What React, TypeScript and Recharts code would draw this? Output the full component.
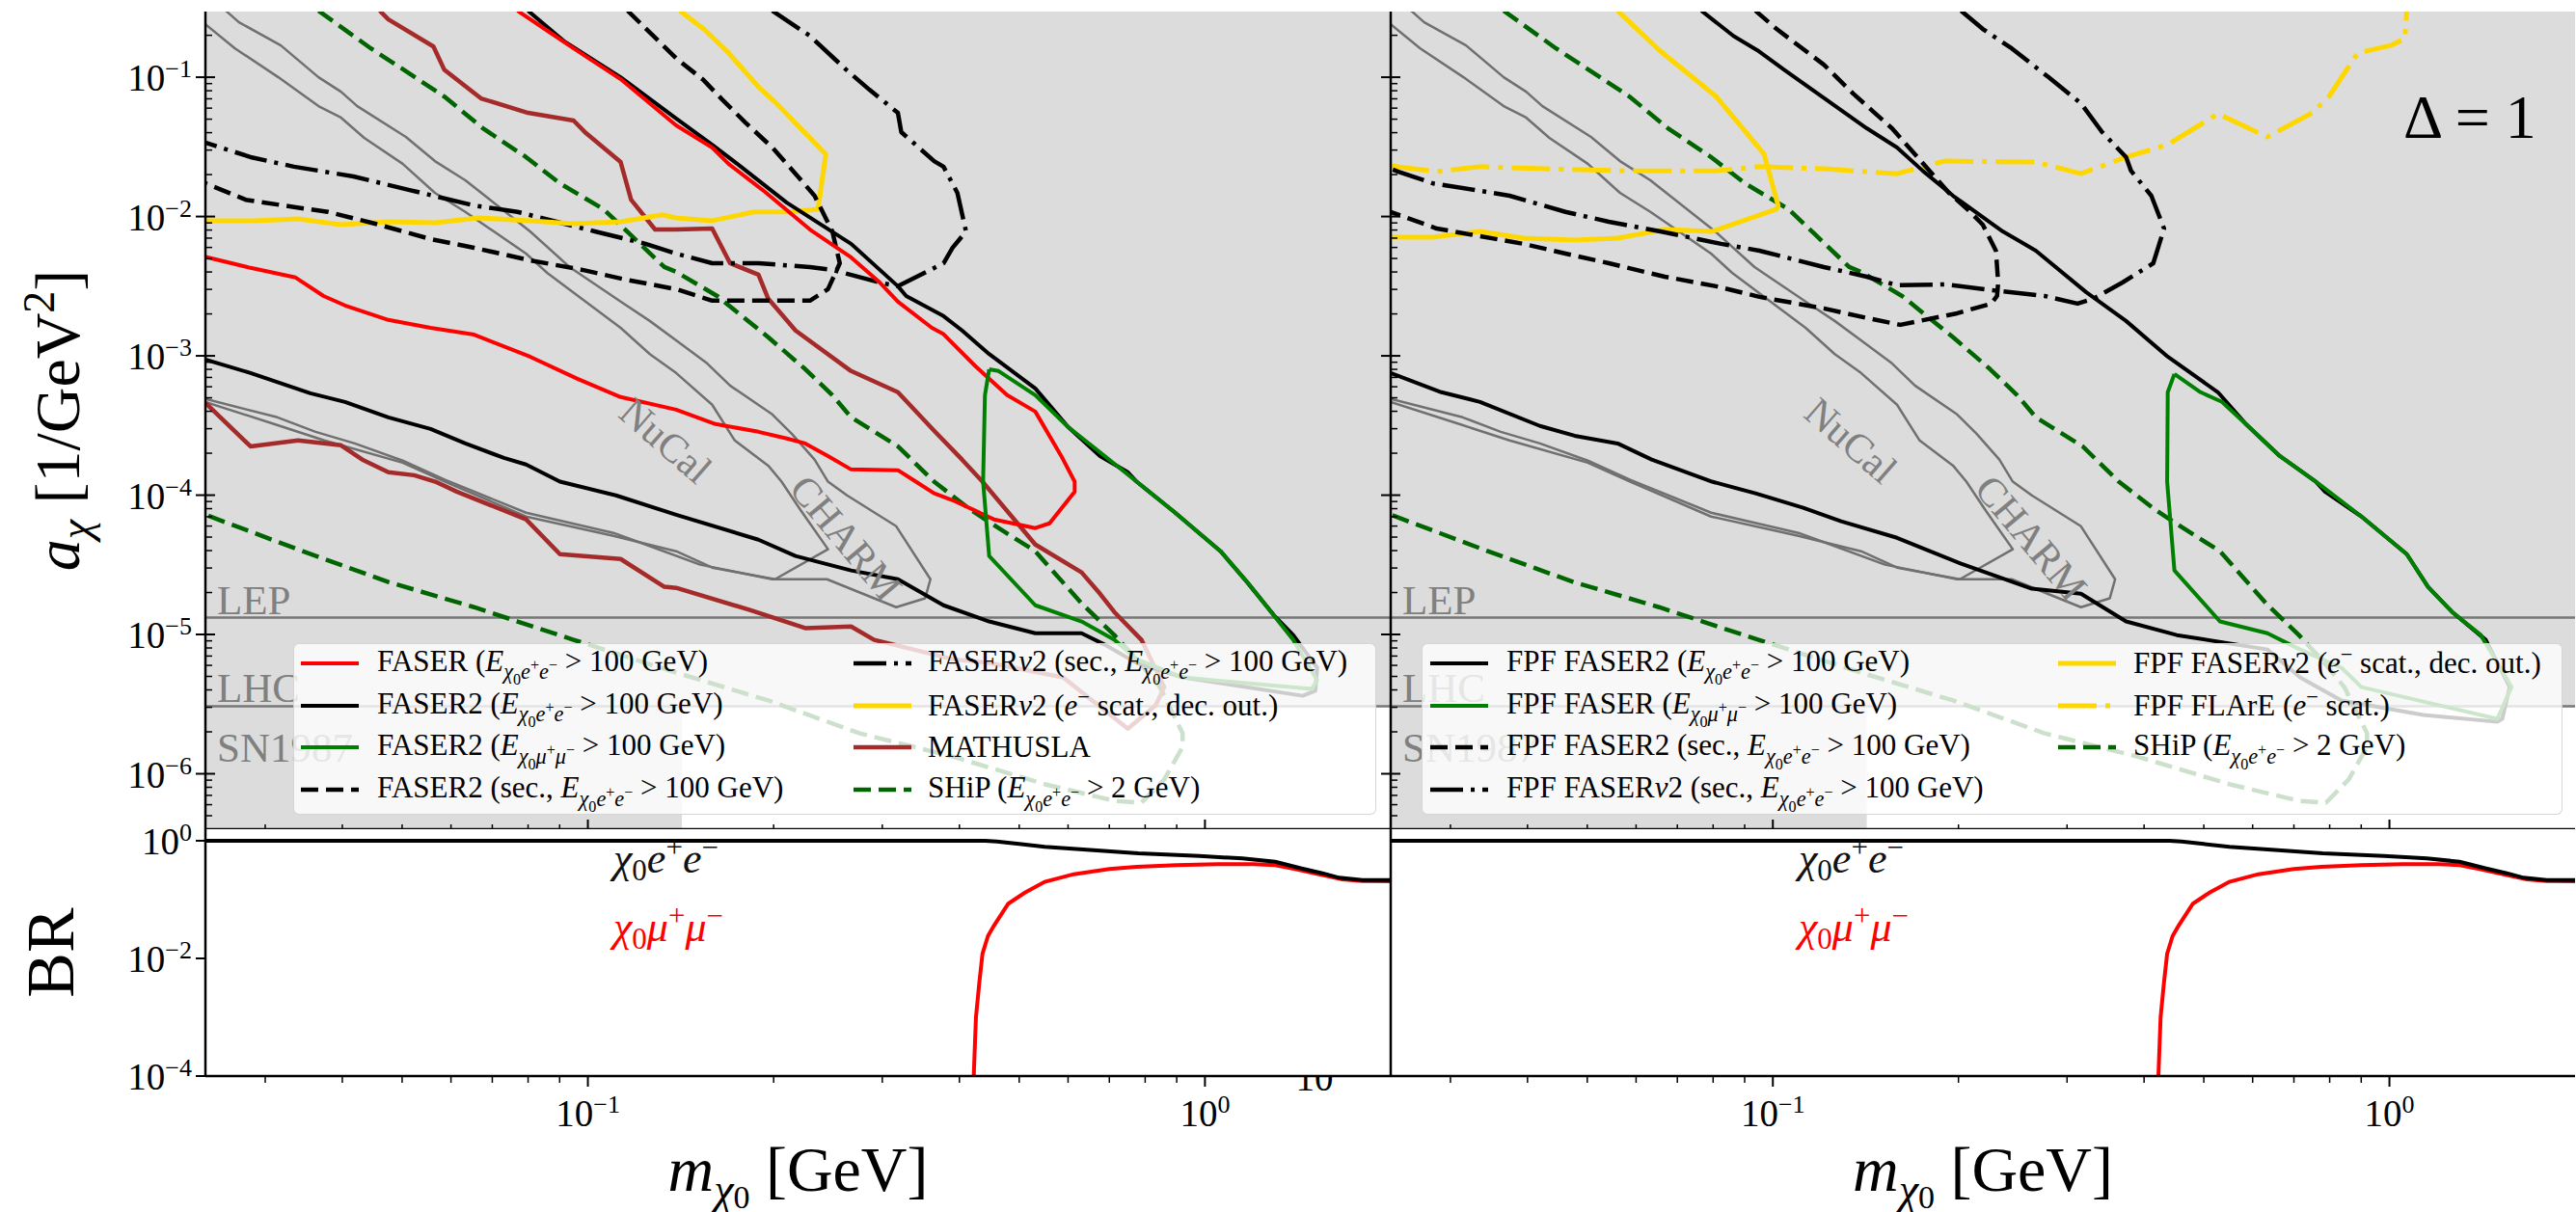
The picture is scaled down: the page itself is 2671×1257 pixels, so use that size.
import React from "react";
import {
  LineChart,
  Line,
  XAxis,
  YAxis,
  CartesianGrid,
  ReferenceArea,
  ReferenceLine,
  Legend,
} from "recharts";

type Pair = [number, number];

// axis ranges and tick labels
const M_RANGE: Pair = [0.024, 2.0];
const A_RANGE: Pair = [4.0e-7, 0.296];
const BR_RANGE: Pair = [1e-4, 1.57];
const M_MAJOR = [0.1, 1];
const A_MAJOR = [1e-6, 1e-5, 1e-4, 1e-3, 1e-2, 1e-1];
const BR_MAJOR = [1e-4, 1e-2, 1];

// existing bounds
const LEP_BOUND = 1.32e-5;
const LHC_BOUND = 3.05e-6;
const SN1987_MAX_MASS = 0.142;

// ---- curves: [m_chi0 (GeV), a_chi (1/GeV^2)] ----
const nucal: Pair[] = [
  [0.024, 0.24], [0.0268, 0.161], [0.0315, 0.1], [0.0366, 0.062], [0.0398, 0.0513],
  [0.0434, 0.0367], [0.0501, 0.0239], [0.0565, 0.0148], [0.0633, 0.0108], [0.0794, 0.00542],
  [0.0859, 0.00394], [0.113, 0.00159], [0.126, 0.00103], [0.139, 7.53e-4], [0.159, 4.46e-4],
  [0.173, 2.47e-4], [0.196, 1.63e-4], [0.206, 1.25e-4], [0.221, 7.85e-5], [0.245, 4.09e-5],
  [0.201, 2.49e-5], [0.159, 3.02e-5], [0.139, 3.96e-5], [0.11, 5.11e-5], [0.0794, 7.02e-5],
  [0.0587, 1.25e-4], [0.0501, 1.71e-4], [0.0374, 2.47e-4], [0.031, 3.24e-4], [0.024, 4.67e-4],
];

const charm: Pair[] = [
  [0.0259, 0.3], [0.0272, 0.248], [0.0318, 0.169], [0.0366, 0.1], [0.0398, 0.0787],
  [0.0423, 0.062], [0.0507, 0.0373], [0.0565, 0.025], [0.0633, 0.0182], [0.0806, 0.00782],
  [0.0934, 0.00434], [0.113, 0.00245], [0.126, 0.00178], [0.139, 0.00129], [0.156, 8.83e-4],
  [0.17, 6.12e-4], [0.199, 3.8e-4], [0.214, 2.76e-4], [0.233, 1.8e-4], [0.245, 1.25e-4],
  [0.263, 9.97e-5], [0.316, 5.98e-5], [0.359, 2.49e-5], [0.352, 1.82e-5], [0.316, 1.57e-5],
  [0.244, 2.49e-5], [0.199, 2.49e-5], [0.152, 3.17e-5], [0.124, 4.42e-5], [0.11, 5.36e-5],
  [0.0794, 7.48e-5], [0.0587, 1.29e-4], [0.0501, 1.77e-4], [0.0419, 2.35e-4], [0.0362, 2.85e-4],
  [0.0314, 3.62e-4], [0.024, 4.9e-4],
];

const ship: Pair[] = [
  [0.0366, 0.3], [0.0445, 0.161], [0.0497, 0.117], [0.0585, 0.0728], [0.0676, 0.043],
  [0.0794, 0.0267], [0.0901, 0.0173], [0.106, 0.0113], [0.117, 0.00746], [0.133, 0.00434],
  [0.139, 0.00401], [0.162, 0.00269], [0.196, 0.00136], [0.225, 8.03e-4], [0.249, 5.22e-4],
  [0.267, 3.62e-4], [0.318, 2.24e-4], [0.364, 1.25e-4], [0.417, 7.85e-5], [0.463, 5.8e-5],
  [0.531, 3.96e-5], [0.631, 1.67e-5], [0.713, 9.9e-6], [0.775, 6.65e-6], [0.845, 4.19e-6],
  [0.92, 1.95e-6], [0.92, 1.56e-6], [0.859, 9.1e-7], [0.789, 6.2e-7], [0.713, 6.4e-7],
  [0.551, 8.4e-7], [0.39, 1.33e-6], [0.276, 1.95e-6], [0.196, 3.36e-6], [0.139, 5.32e-6],
  [0.0948, 9.15e-6], [0.0769, 1.24e-5], [0.0654, 1.57e-5], [0.0475, 2.38e-5], [0.0345, 3.96e-5],
  [0.024, 7.24e-5],
];

// left panel
const faserEE: Pair[] = [
  [0.0769, 0.3], [0.0866, 0.211], [0.0948, 0.161], [0.113, 0.0969], [0.139, 0.0451],
  [0.159, 0.0313], [0.169, 0.0239], [0.192, 0.0155], [0.229, 0.00807], [0.267, 0.00509],
  [0.297, 0.00337], [0.318, 0.00245], [0.361, 0.00159], [0.377, 0.00143], [0.425, 8.4e-4],
  [0.478, 5.22e-4], [0.531, 3.98e-4], [0.585, 1.91e-4], [0.615, 1.25e-4], [0.615, 1.06e-4],
  [0.56, 6.28e-5], [0.531, 5.8e-5], [0.496, 6.18e-5], [0.455, 6.7e-5], [0.39, 9.2e-5],
  [0.364, 1.03e-4], [0.34, 1.25e-4], [0.318, 1.51e-4], [0.267, 1.53e-4], [0.245, 1.91e-4],
  [0.225, 2.35e-4], [0.21, 2.55e-4], [0.189, 2.85e-4], [0.161, 3.24e-4], [0.139, 4.11e-4],
  [0.113, 5.06e-4], [0.0962, 6.84e-4], [0.0806, 9.86e-4], [0.0654, 1.42e-3], [0.0556, 1.59e-3],
  [0.0475, 1.81e-3], [0.0404, 2.3e-3], [0.0373, 2.69e-3], [0.0336, 3.65e-3], [0.0284, 4.28e-3],
  [0.0242, 5.09e-3], [0.023, 5.4e-3],
];

const faser2EE: Pair[] = [
  [0.08, 0.3], [0.0917, 0.18], [0.113, 0.1], [0.139, 0.0505], [0.159, 0.0328],
  [0.177, 0.0228], [0.21, 0.0126], [0.267, 0.00637], [0.318, 0.00316], [0.328, 0.00269],
  [0.377, 0.00193], [0.404, 0.00152], [0.447, 0.00103], [0.531, 5.83e-4], [0.6, 3.09e-4],
  [0.676, 1.91e-4], [0.75, 1.46e-4], [0.775, 1.25e-4], [0.891, 7.6e-5], [1.06, 3.96e-5],
  [1.17, 2.38e-5], [1.3, 1.34e-5], [1.39, 9.9e-6], [1.52, 5.77e-6], [1.51, 3.94e-6],
  [1.44, 3.63e-6], [0.92, 4.92e-6], [0.775, 6.24e-6], [0.688, 8.45e-6], [0.631, 1.02e-5],
  [0.531, 1.02e-5], [0.447, 1.24e-5], [0.377, 1.62e-5], [0.318, 2.49e-5], [0.267, 2.88e-5],
  [0.217, 3.66e-5], [0.189, 4.79e-5], [0.139, 7.24e-5], [0.111, 9.97e-5], [0.0901, 1.25e-4],
  [0.0794, 1.66e-4], [0.0731, 1.85e-4], [0.0633, 2.35e-4], [0.0556, 2.99e-4], [0.0475, 3.62e-4],
  [0.0404, 4.67e-4], [0.0355, 5.39e-4], [0.0284, 7.53e-4], [0.024, 9.42e-4],
];

const faser2MuMu: Pair[] = [
  [0.447, 8.0e-4], [0.44, 5.22e-4], [0.437, 1.25e-4], [0.447, 3.66e-5], [0.531, 1.62e-5],
  [0.631, 1.24e-5], [0.713, 9.15e-6], [0.775, 6.65e-6], [0.92, 4.92e-6], [1.49, 4.06e-6],
  [1.52, 4.69e-6], [1.39, 9.15e-6], [1.17, 2.38e-5], [1.06, 3.96e-5], [0.891, 7.6e-5],
  [0.775, 1.25e-4], [0.688, 1.91e-4], [0.6, 3.09e-4], [0.531, 5.22e-4], [0.463, 7.78e-4],
  [0.447, 8.0e-4],
];

const faser2Sec: Pair[] = [
  [0.116, 0.3], [0.139, 0.137], [0.154, 0.0953], [0.165, 0.0693], [0.18, 0.0473],
  [0.199, 0.0313], [0.217, 0.0203], [0.233, 0.0141], [0.249, 0.00782], [0.256, 0.00462],
  [0.245, 0.00301], [0.229, 0.00249], [0.196, 0.00249], [0.159, 0.00249], [0.139, 0.00301],
  [0.115, 0.00353], [0.098, 0.00414], [0.0806, 0.00485], [0.0654, 0.00597], [0.0556, 0.00689],
  [0.0452, 0.00889], [0.0379, 0.0108], [0.0334, 0.0117], [0.0279, 0.0132], [0.024, 0.0173],
];

const faserNu2Sec: Pair[] = [
  [0.199, 0.3], [0.229, 0.198], [0.262, 0.1135], [0.286, 0.0813], [0.318, 0.0555],
  [0.322, 0.0404], [0.364, 0.025], [0.377, 0.0228], [0.397, 0.0148], [0.41, 0.00782],
  [0.39, 0.00597], [0.377, 0.00462], [0.318, 0.00316], [0.297, 0.00336], [0.249, 0.00414],
  [0.229, 0.00434], [0.189, 0.00462], [0.159, 0.00462], [0.139, 0.00542], [0.124, 0.00637],
  [0.1026, 0.00782], [0.0769, 0.0108], [0.0654, 0.012], [0.0514, 0.0155], [0.0417, 0.0194],
  [0.0334, 0.0228], [0.0284, 0.0267], [0.0246, 0.0328], [0.024, 0.034],
];

const faserNu2Scat: Pair[] = [
  [0.141, 0.3], [0.154, 0.222], [0.168, 0.154], [0.189, 0.0853], [0.202, 0.065],
  [0.225, 0.0397], [0.243, 0.028], [0.236, 0.0113], [0.214, 0.0108], [0.186, 0.0108],
  [0.159, 0.00933], [0.139, 0.00978], [0.132, 0.0103], [0.113, 0.00918], [0.0948, 0.00889],
  [0.0806, 0.00933], [0.0665, 0.00978], [0.0566, 0.00903], [0.0475, 0.00918], [0.0398, 0.00875],
  [0.0339, 0.00962], [0.0288, 0.00933], [0.024, 0.00933],
];

const mathusla: Pair[] = [
  [0.046, 0.3], [0.0475, 0.26], [0.0562, 0.166], [0.0585, 0.1135], [0.0671, 0.0705],
  [0.08, 0.0555], [0.0948, 0.0489], [0.0993, 0.0397], [0.113, 0.0246], [0.1175, 0.0132],
  [0.1285, 0.00807], [0.139, 0.00807], [0.159, 0.0082], [0.17, 0.00462], [0.189, 0.00382],
  [0.196, 0.00257], [0.217, 0.00152], [0.267, 7.78e-4], [0.318, 5.48e-4], [0.364, 2.9e-4],
  [0.404, 1.8e-4], [0.436, 1.25e-4], [0.531, 4.42e-5], [0.631, 2.79e-5], [0.676, 1.96e-5],
  [0.713, 1.45e-5], [0.789, 9.15e-6], [0.859, 4.19e-6], [0.832, 3.1e-6], [0.75, 2.11e-6],
  [0.589, 4.92e-6], [0.447, 6.24e-6], [0.39, 6.65e-6], [0.291, 9.15e-6], [0.267, 1.14e-5],
  [0.225, 1.11e-5], [0.183, 1.5e-5], [0.139, 2.16e-5], [0.133, 2.2e-5], [0.113, 3.48e-5],
  [0.0901, 3.77e-5], [0.0794, 6.7e-5], [0.0613, 1.06e-4], [0.0566, 1.25e-4], [0.0523, 1.39e-4],
  [0.0475, 1.46e-4], [0.0431, 1.8e-4], [0.0398, 2.28e-4], [0.0339, 2.47e-4], [0.0284, 2.24e-4],
  [0.024, 4.59e-4],
];

// right panel (FPF)
const fpfFaser2EE: Pair[] = [
  [0.0766, 0.3], [0.0863, 0.198], [0.0944, 0.156], [0.1047, 0.1117], [0.142, 0.043],
  [0.159, 0.0313], [0.175, 0.0213], [0.196, 0.0141], [0.236, 0.00782], [0.267, 0.00569],
  [0.322, 0.00287], [0.374, 0.00178], [0.437, 9.86e-4], [0.527, 5.48e-4], [0.585, 3.24e-4],
  [0.664, 1.91e-4], [0.76, 1.25e-4], [0.786, 1.06e-4], [0.901, 7.02e-5], [1.067, 3.77e-5],
  [1.155, 2.2e-5], [1.264, 1.45e-5], [1.433, 9.15e-6], [1.567, 4.19e-6], [1.524, 2.48e-6],
  [1.496, 2.36e-6], [1.135, 2.64e-6], [0.836, 3.36e-6], [0.716, 4.92e-6], [0.634, 7.8e-6],
  [0.452, 9.9e-6], [0.374, 1.24e-5], [0.316, 1.96e-5], [0.263, 2.13e-5], [0.202, 3.22e-5],
  [0.159, 4.94e-5], [0.129, 6.49e-5], [0.112, 8.11e-5], [0.0937, 1.03e-4], [0.0797, 1.25e-4],
  [0.0636, 1.8e-4], [0.056, 2.35e-4], [0.0477, 2.67e-4], [0.0419, 3.14e-4], [0.0335, 4.67e-4],
  [0.029, 5.48e-4], [0.024, 7.53e-4],
];

const fpfFaserMuMu: Pair[] = [
  [0.448, 7.41e-4], [0.437, 5.48e-4], [0.436, 1.25e-4], [0.448, 2.88e-5], [0.531, 1.24e-5],
  [0.634, 1.02e-5], [0.716, 7.8e-6], [0.836, 5.77e-6], [0.901, 4.19e-6], [1.496, 2.48e-6],
  [1.578, 4.19e-6], [1.407, 9.9e-6], [1.264, 1.45e-5], [1.155, 2.2e-5], [1.067, 3.77e-5],
  [0.901, 7.02e-5], [0.76, 1.25e-4], [0.664, 1.91e-4], [0.585, 3.24e-4], [0.535, 4.68e-4],
  [0.494, 5.48e-4], [0.448, 7.41e-4],
];

const fpfFaser2Sec: Pair[] = [
  [0.0937, 0.3], [0.1014, 0.222], [0.121, 0.123], [0.135, 0.0762], [0.156, 0.043],
  [0.17, 0.028], [0.193, 0.0148], [0.209, 0.0108], [0.219, 0.00875], [0.23, 0.00569],
  [0.232, 0.00336], [0.231, 0.00269], [0.226, 0.00237], [0.199, 0.00202], [0.161, 0.00167],
  [0.142, 0.00187], [0.121, 0.00219], [0.0951, 0.00265], [0.0809, 0.00316], [0.0668, 0.0037],
  [0.0542, 0.00462], [0.0461, 0.00542], [0.0394, 0.00637], [0.0335, 0.00723], [0.0285, 0.0082],
  [0.024, 0.0108],
];

const fpfFaserNu2Sec: Pair[] = [
  [0.202, 0.3], [0.219, 0.222], [0.244, 0.161], [0.28, 0.1], [0.316, 0.065],
  [0.342, 0.0404], [0.374, 0.0267], [0.381, 0.0213], [0.411, 0.0141], [0.431, 0.0082],
  [0.414, 0.00462], [0.369, 0.00336], [0.331, 0.00257], [0.312, 0.00237], [0.276, 0.00269],
  [0.233, 0.00292], [0.19, 0.00326], [0.159, 0.00321], [0.142, 0.0037], [0.121, 0.00434],
  [0.0951, 0.00569], [0.0824, 0.00637], [0.0657, 0.00782], [0.0542, 0.00918], [0.0461, 0.0108],
  [0.0374, 0.0141], [0.0329, 0.0155], [0.0281, 0.0173], [0.0247, 0.021], [0.024, 0.022],
];

const fpfFaserNu2Scat: Pair[] = [
  [0.056, 0.3], [0.0657, 0.154], [0.0809, 0.0728], [0.0968, 0.028], [0.102, 0.012],
  [0.1014, 0.0113], [0.0797, 0.00782], [0.0668, 0.00807], [0.056, 0.007], [0.0477, 0.00678],
  [0.0394, 0.007], [0.0335, 0.00782], [0.0281, 0.00711], [0.024, 0.00711],
];

const fpfFlare: Pair[] = [
  [0.024, 0.0231], [0.0285, 0.021], [0.0335, 0.0228], [0.0426, 0.022], [0.0587, 0.0213],
  [0.0809, 0.0213], [0.0951, 0.0228], [0.121, 0.022], [0.159, 0.0203], [0.19, 0.025],
  [0.267, 0.0246], [0.316, 0.0203], [0.374, 0.0267], [0.437, 0.0328], [0.527, 0.0546],
  [0.634, 0.0373], [0.75, 0.0555], [0.798, 0.0728], [0.888, 0.149], [1.004, 0.169],
  [1.059, 0.189], [1.067, 0.3],
];

// branching ratios: [m_chi0 (GeV), BR]
const brEE: Pair[] = [
  [0.024, 1], [0.44, 1], [0.46, 0.97], [0.5, 0.88], [0.55, 0.79], [0.66, 0.69],
  [0.78, 0.61], [0.98, 0.55], [1.15, 0.5], [1.3, 0.44], [1.43, 0.34], [1.55, 0.28],
  [1.65, 0.235], [1.8, 0.215], [2.0, 0.215],
];

const brMuMu: Pair[] = [
  [0.4215, 5e-5], [0.422, 1e-4], [0.4255, 1e-3], [0.431, 4e-3], [0.436, 0.012],
  [0.445, 0.024], [0.455, 0.036], [0.48, 0.085], [0.51, 0.13], [0.55, 0.2],
  [0.613, 0.27], [0.7, 0.33], [0.775, 0.36], [0.9, 0.385], [1.05, 0.4], [1.2, 0.4],
  [1.3, 0.385], [1.4, 0.33], [1.55, 0.26], [1.67, 0.22], [1.8, 0.207], [2.0, 0.205],
];

// ---- layout ----
const W = 2671;
const H = 1257;
const LX0 = 213;
const LX1 = 1442;
const RX0 = 1442;
const RX1 = 2670;
const TY0 = 12;
const TY1 = 860;
const BY1 = 1116;
const FONT = '"Liberation Serif", "DejaVu Serif", serif';
const SPINE = { stroke: "#000", strokeWidth: 2.5 };

const GRAY = "#707070";
const GOLD = "#ffd700";

// minor ticks between decades
const withMinors = (lo: number, hi: number) => {
  const out: number[] = [];
  for (let e = Math.floor(Math.log10(lo)); e <= Math.ceil(Math.log10(hi)); e++) {
    for (let k = 1; k <= 9; k++) {
      const v = +(k * Math.pow(10, e)).toPrecision(3);
      if (v >= lo && v <= hi) out.push(v);
    }
  }
  return out;
};
const M_TICKS = withMinors(M_RANGE[0], 1.5);
const A_TICKS = withMinors(A_RANGE[0], A_RANGE[1]);

const isDecade = (v: number) =>
  Math.abs(Math.log10(v) - Math.round(Math.log10(v))) < 1e-6;
const expText = (v: number) => {
  const e = Math.round(Math.log10(v));
  return e < 0 ? "\u2212" + Math.abs(e) : String(e);
};

const XTick = (props: any) => {
  const { x, y, payload, mode, labels } = props;
  const v = payload.value;
  const major = isDecade(v) && M_MAJOR.some((t) => Math.abs(t - v) < 1e-9);
  const len = mode === "out" ? (major ? 11 : 7) : major ? 10 : 5;
  const dir = mode === "up" ? -1 : 1;
  return (
    <g>
      <line x1={x} x2={x} y1={y} y2={y + dir * len} stroke="#000" strokeWidth={major ? 2 : 1.5} />
      {labels && major && (
        <text x={x} y={y + 52} textAnchor="middle" fontFamily={FONT} fontSize={39} fill="#000">
          10
          <tspan dy={-14} fontSize={26}>
            {expText(v)}
          </tspan>
        </text>
      )}
    </g>
  );
};

const YTick = (props: any) => {
  const { x, y, payload, mode } = props;
  const v = payload.value;
  const major = isDecade(v);
  let x1 = x;
  let x2 = x;
  if (mode === "right") {
    x1 = x - (major ? 10 : 7);
  } else if (mode === "br") {
    x1 = x - 10;
  } else {
    x1 = major ? x - 10 : x;
    x2 = major ? x + 10 : x + 7;
  }
  const label = (mode === "leftLabel" || mode === "br") && major;
  return (
    <g>
      <line x1={x1} x2={x2} y1={y} y2={y} stroke="#000" strokeWidth={major ? 2 : 1.5} />
      {label && (
        <text x={x - 14} y={y + 14} textAnchor="end" fontFamily={FONT} fontSize={39} fill="#000">
          10
          <tspan dy={-14} fontSize={26}>
            {expText(v)}
          </tspan>
        </text>
      )}
    </g>
  );
};

// ---- legend ----
const Sb = ({ children }: { children: React.ReactNode }) => (
  <span style={{ fontSize: "0.72em", verticalAlign: "-0.38em", lineHeight: 0 }}>{children}</span>
);
const Sp = ({ children }: { children: React.ReactNode }) => (
  <span style={{ fontSize: "0.72em", verticalAlign: "0.55em", lineHeight: 0 }}>{children}</span>
);
const Eee = (
  <>
    <i>E</i>
    <Sb>
      <i>χ</i>
      <Sb>0</Sb>
      <i>e</i>
      <Sp>+</Sp>
      <i>e</i>
      <Sp>−</Sp>
    </Sb>
  </>
);
const Emm = (
  <>
    <i>E</i>
    <Sb>
      <i>χ</i>
      <Sb>0</Sb>
      <i>μ</i>
      <Sp>+</Sp>
      <i>μ</i>
      <Sp>−</Sp>
    </Sb>
  </>
);
const eMinus = (
  <>
    <i>e</i>
    <Sp>−</Sp>
  </>
);

type Series = {
  key: string;
  data: Pair[];
  color: string;
  width: number;
  dash?: string;
  label?: React.ReactNode;
};

const DASH = "18 8";
const DASHDOT = "34 8 4 8";

const grayCurves: Series[] = [
  { key: "nucal", data: nucal, color: GRAY, width: 2.5 },
  { key: "charm", data: charm, color: GRAY, width: 2.5 },
];

const leftSeries: Series[] = [
  ...grayCurves,
  { key: "ship", data: ship, color: "#006400", width: 4.5, dash: DASH, label: <>SHiP ({Eee} &gt; 2 GeV)</> },
  { key: "mathusla", data: mathusla, color: "#a52a2a", width: 4.5, label: <>MATHUSLA</> },
  { key: "nu2sec", data: faserNu2Sec, color: "#000", width: 4.5, dash: DASHDOT, label: <>FASER<i>ν</i>2 (sec., {Eee} &gt; 100 GeV)</> },
  { key: "nu2scat", data: faserNu2Scat, color: GOLD, width: 5, label: <>FASER<i>ν</i>2 ({eMinus} scat., dec. out.)</> },
  { key: "f2sec", data: faser2Sec, color: "#000", width: 4.5, dash: DASH, label: <>FASER2 (sec., {Eee} &gt; 100 GeV)</> },
  { key: "f2ee", data: faser2EE, color: "#000", width: 4, label: <>FASER2 ({Eee} &gt; 100 GeV)</> },
  { key: "fee", data: faserEE, color: "#ff0000", width: 4, label: <>FASER ({Eee} &gt; 100 GeV)</> },
  { key: "f2mm", data: faser2MuMu, color: "#008000", width: 4, label: <>FASER2 ({Emm} &gt; 100 GeV)</> },
];

const rightSeries: Series[] = [
  ...grayCurves,
  { key: "ship", data: ship, color: "#006400", width: 4.5, dash: DASH, label: <>SHiP ({Eee} &gt; 2 GeV)</> },
  { key: "flare", data: fpfFlare, color: GOLD, width: 5, dash: "40 9 5 9", label: <>FPF FLArE ({eMinus} scat.)</> },
  { key: "nu2scat", data: fpfFaserNu2Scat, color: GOLD, width: 5, label: <>FPF FASER<i>ν</i>2 ({eMinus} scat., dec. out.)</> },
  { key: "nu2sec", data: fpfFaserNu2Sec, color: "#000", width: 4.5, dash: DASHDOT, label: <>FPF FASER<i>ν</i>2 (sec., {Eee} &gt; 100 GeV)</> },
  { key: "f2sec", data: fpfFaser2Sec, color: "#000", width: 4.5, dash: DASH, label: <>FPF FASER2 (sec., {Eee} &gt; 100 GeV)</> },
  { key: "f2ee", data: fpfFaser2EE, color: "#000", width: 4, label: <>FPF FASER2 ({Eee} &gt; 100 GeV)</> },
  { key: "fmm", data: fpfFaserMuMu, color: "#008000", width: 4, label: <>FPF FASER ({Emm} &gt; 100 GeV)</> },
];

// legend order: [column, row, series key]
const leftLegendOrder: [number, number, string][] = [
  [0, 0, "fee"], [0, 1, "f2ee"], [0, 2, "f2mm"], [0, 3, "f2sec"],
  [1, 0, "nu2sec"], [1, 1, "nu2scat"], [1, 2, "mathusla"], [1, 3, "ship"],
];
const rightLegendOrder: [number, number, string][] = [
  [0, 0, "f2ee"], [0, 1, "fmm"], [0, 2, "f2sec"], [0, 3, "nu2sec"],
  [1, 0, "nu2scat"], [1, 1, "flare"], [1, 2, "ship"],
];

const LegendBox = ({
  series,
  order,
  cols,
}: {
  series: Series[];
  order: [number, number, string][];
  cols: { line: number; text: number }[];
}) => (
  <div
    style={{
      position: "relative",
      width: "100%",
      height: "100%",
      boxSizing: "border-box",
      background: "rgba(255,255,255,0.8)",
      border: "1.5px solid rgba(204,204,204,0.8)",
      borderRadius: 6,
      fontFamily: FONT,
      fontSize: 31,
      color: "#000",
    }}
  >
    {order.map(([c, r, key]) => {
      const s = series.find((q) => q.key === key)!;
      const cy = 20 + r * 43.7;
      return (
        <React.Fragment key={key}>
          <svg
            width={60}
            height={12}
            style={{ position: "absolute", left: cols[c].line, top: cy - 6 }}
          >
            <line x1={0} x2={60} y1={6} y2={6} stroke={s.color} strokeWidth={s.width} strokeDasharray={s.dash} />
          </svg>
          <div
            style={{
              position: "absolute",
              left: cols[c].text,
              top: cy,
              transform: "translateY(-52%)",
              whiteSpace: "nowrap",
              lineHeight: 1,
            }}
          >
            {s.label}
          </div>
        </React.Fragment>
      );
    })}
  </div>
);

const TopPanel = ({ side }: { side: "left" | "right" }) => {
  const left = side === "left";
  const series = left ? leftSeries : rightSeries;
  const x1 = left ? LX1 : RX1;
  return (
    <div style={{ position: "absolute", left: 0, top: 0 }}>
      <LineChart
        width={W}
        height={H}
        margin={{ top: TY0, left: left ? 0 : RX0 - 10, right: W - x1, bottom: H - TY1 - 20 }}
      >
        <CartesianGrid xAxisId="b" yAxisId="l" horizontal={false} vertical={false} fill="#dcdcdc" fillOpacity={1} />
        <XAxis
          xAxisId="b"
          dataKey="m"
          type="number"
          scale="log"
          domain={M_RANGE}
          allowDataOverflow
          ticks={M_TICKS}
          interval={0}
          height={20}
          tickSize={0}
          tickMargin={0}
          tickLine={false}
          axisLine={SPINE}
          tick={(p: any) => <XTick {...p} mode="up" />}
        />
        <XAxis
          xAxisId="t"
          orientation="top"
          dataKey="m"
          type="number"
          scale="log"
          domain={M_RANGE}
          allowDataOverflow
          ticks={M_TICKS}
          interval={0}
          height={0}
          tickSize={0}
          tickMargin={0}
          tickLine={false}
          axisLine={SPINE}
          tick={(p: any) => <XTick {...p} mode="down" />}
        />
        <YAxis
          yAxisId="l"
          type="number"
          scale="log"
          domain={A_RANGE}
          allowDataOverflow
          ticks={A_TICKS}
          interval={0}
          width={left ? LX0 : 10}
          tickSize={0}
          tickMargin={0}
          tickLine={false}
          axisLine={SPINE}
          tick={(p: any) => <YTick {...p} mode={left ? "leftLabel" : "left"} />}
        />
        <YAxis
          yAxisId="r"
          orientation="right"
          type="number"
          scale="log"
          domain={A_RANGE}
          allowDataOverflow
          ticks={A_TICKS}
          interval={0}
          width={0}
          tickSize={0}
          tickMargin={0}
          tickLine={false}
          axisLine={SPINE}
          tick={(p: any) => <YTick {...p} mode="right" />}
        />
        <ReferenceArea
          xAxisId="b"
          yAxisId="l"
          x1={SN1987_MAX_MASS}
          x2={M_RANGE[1]}
          y1={A_RANGE[0]}
          y2={LHC_BOUND}
          fill="#ffffff"
          fillOpacity={1}
          stroke="none"
          ifOverflow="hidden"
        />
        <ReferenceLine xAxisId="b" yAxisId="l" y={LEP_BOUND} stroke="#777" strokeWidth={2.5} />
        <ReferenceLine xAxisId="b" yAxisId="l" y={LHC_BOUND} stroke="#777" strokeWidth={2.5} />
        {series.map((s) => (
          <Line
            key={s.key}
            xAxisId="b"
            yAxisId="l"
            data={s.data.map(([m, v]) => ({ m, v }))}
            dataKey="v"
            type="linear"
            stroke={s.color}
            strokeWidth={s.width}
            strokeDasharray={s.dash}
            strokeLinejoin="round"
            dot={false}
            activeDot={false}
            legendType="none"
            isAnimationActive={false}
          />
        ))}
        <Legend
          layout="vertical"
          align="center"
          verticalAlign="middle"
          wrapperStyle={
            left
              ? { left: 304, top: 667, width: 1123, height: 178, zIndex: 2 }
              : { left: 1474, top: 667, width: 1183, height: 178, zIndex: 2 }
          }
          content={() => (
            <LegendBox
              series={series}
              order={left ? leftLegendOrder : rightLegendOrder}
              cols={
                left
                  ? [{ line: 7, text: 86 }, { line: 580, text: 657 }]
                  : [{ line: 8, text: 87 }, { line: 659, text: 737 }]
              }
            />
          )}
        />
      </LineChart>
    </div>
  );
};

const BrPanel = ({ side }: { side: "left" | "right" }) => {
  const left = side === "left";
  const x1 = left ? LX1 : RX1;
  return (
    <div style={{ position: "absolute", left: 0, top: 0 }}>
      <LineChart
        width={W}
        height={H}
        margin={{ top: TY1, left: left ? 0 : RX0 - 10, right: W - x1, bottom: H - BY1 - 80 }}
      >
        <CartesianGrid xAxisId="b" yAxisId="l" horizontal={false} vertical={false} fill="#ffffff" fillOpacity={1} />
        <XAxis
          xAxisId="b"
          dataKey="m"
          type="number"
          scale="log"
          domain={M_RANGE}
          allowDataOverflow
          ticks={M_TICKS}
          interval={0}
          height={80}
          tickSize={0}
          tickMargin={0}
          tickLine={false}
          axisLine={SPINE}
          tick={(p: any) => <XTick {...p} mode="out" labels />}
        />
        <XAxis xAxisId="t" orientation="top" type="number" scale="log" domain={M_RANGE} allowDataOverflow height={0} tick={false} tickLine={false} axisLine={SPINE} />
        <YAxis
          yAxisId="l"
          type="number"
          scale="log"
          domain={BR_RANGE}
          allowDataOverflow
          ticks={BR_MAJOR}
          interval={0}
          width={left ? LX0 : 10}
          tickSize={0}
          tickMargin={0}
          tickLine={false}
          axisLine={SPINE}
          tick={left ? (p: any) => <YTick {...p} mode="br" /> : false}
        />
        <YAxis yAxisId="r" orientation="right" type="number" scale="log" domain={BR_RANGE} allowDataOverflow width={0} tick={false} tickLine={false} axisLine={SPINE} />
        <Line xAxisId="b" yAxisId="l" data={brMuMu.map(([m, v]) => ({ m, v }))} dataKey="v" type="linear" stroke="#ff0000" strokeWidth={4} dot={false} activeDot={false} isAnimationActive={false} />
        <Line xAxisId="b" yAxisId="l" data={brEE.map(([m, v]) => ({ m, v }))} dataKey="v" type="linear" stroke="#000" strokeWidth={4} dot={false} activeDot={false} isAnimationActive={false} />
      </LineChart>
    </div>
  );
};

// Text labels for both panels (drawn above the curves, under the legends)
const Labels = () => {
  const g = { fontFamily: FONT, fill: "#808080", fontSize: 43 };
  const panel = (dx: number) => (
    <g key={dx}>
      <text x={225 + dx} y={637} {...g}>LEP</text>
      <text x={225 + dx} y={728} {...g}>LHC</text>
      <text x={225 + dx} y={790} {...g}>SN1987</text>
      <text transform={`translate(${690 + dx},457) rotate(41)`} textAnchor="middle" dominantBaseline="central" {...g} fontSize={42}>
        NuCal
      </text>
      <text transform={`translate(${877 + dx},558) rotate(50)`} textAnchor="middle" dominantBaseline="central" {...g} fontSize={42}>
        CHARM
      </text>
      <text x={636 + dx} y={905} fontFamily={FONT} fontSize={44} fill="#111">
        <tspan fontStyle="italic">χ</tspan>
        <tspan fontSize={31} dy={8}>0</tspan>
        <tspan fontStyle="italic" dy={-8}>e</tspan>
        <tspan fontSize={31} dy={-16}>+</tspan>
        <tspan fontStyle="italic" dy={16}>e</tspan>
        <tspan fontSize={31} dy={-16}>−</tspan>
      </text>
      <text x={636 + dx} y={976} fontFamily={FONT} fontSize={44} fill="#ff0000">
        <tspan fontStyle="italic">χ</tspan>
        <tspan fontSize={31} dy={8}>0</tspan>
        <tspan fontStyle="italic" dy={-8}>μ</tspan>
        <tspan fontSize={31} dy={-16}>+</tspan>
        <tspan fontStyle="italic" dy={16}>μ</tspan>
        <tspan fontSize={31} dy={-16}>−</tspan>
      </text>
      <text x={(dx ? (RX0 + RX1) / 2 : (LX0 + LX1) / 2)} y={1235} textAnchor="middle" fontFamily={FONT} fontSize={66} fill="#000">
        <tspan fontStyle="italic">m</tspan>
        <tspan fontStyle="italic" fontSize={46} dy={14}>χ</tspan>
        <tspan fontSize={34} dy={4}>0</tspan>
        <tspan dy={-18}> [GeV]</tspan>
      </text>
    </g>
  );
  return (
    <svg
      width={W}
      height={H}
      style={{ position: "absolute", left: 0, top: 0, zIndex: 1, pointerEvents: "none" }}
    >
      {panel(0)}
      {panel(1229)}
      <text x={2492} y={143} fontFamily={FONT} fontSize={64} fill="#000">
        Δ = 1
      </text>
      <text transform="translate(82,436) rotate(-90)" textAnchor="middle" fontFamily={FONT} fontSize={66} fill="#000">
        <tspan fontStyle="italic">a</tspan>
        <tspan fontStyle="italic" fontSize={46} dy={12}>χ</tspan>
        <tspan dy={-12}> [1/GeV</tspan>
        <tspan fontSize={46} dy={-26}>2</tspan>
        <tspan dy={26}>]</tspan>
      </text>
      <text transform="translate(76,988) rotate(-90)" textAnchor="middle" fontFamily={FONT} fontSize={70} fill="#000">
        BR
      </text>
    </svg>
  );
};

export default function App() {
  return (
    <div
      style={{
        position: "absolute",
        left: 0,
        top: 0,
        width: W,
        height: H,
        background: "#fff",
        overflow: "hidden",
        fontFamily: FONT,
      }}
    >
      {/* stray, mostly hidden tick label under the BR panel */}
      <svg width={W} height={H} style={{ position: "absolute", left: 0, top: 0 }}>
        <text x={1363} y={1131} textAnchor="middle" fontFamily={FONT} fontSize={39} fill="#000">
          10
        </text>
      </svg>
      <TopPanel side="left" />
      <TopPanel side="right" />
      <BrPanel side="left" />
      <BrPanel side="right" />
      <Labels />
    </div>
  );
}
